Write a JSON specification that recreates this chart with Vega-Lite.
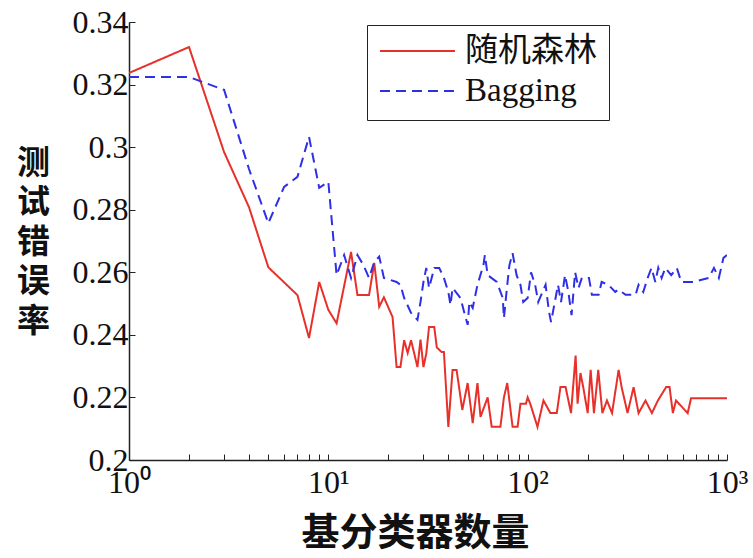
{
  "$schema": "https://vega.github.io/schema/vega-lite/v6.json",
  "autosize": {"type": "none"},
  "width": 598,
  "height": 438,
  "padding": {"left": 129, "top": 22, "right": 26, "bottom": 98},
  "background": "white",
  "config": {
    "view": {"stroke": null},
    "axis": {
      "domainColor": "#222",
      "domainWidth": 1.5,
      "tickColor": "#222",
      "tickWidth": 1,
      "labelColor": "#111",
      "labelFont": "Liberation Serif",
      "labelFontSize": 32,
      "grid": false
    }
  },
  "data": {
    "values": [
      {"s": "随机森林", "n": 1, "v": 0.3237}, {"s": "随机森林", "n": 2, "v": 0.332}, {"s": "随机森林", "n": 3, "v": 0.2984}, {"s": "随机森林", "n": 4, "v": 0.2808},
      {"s": "随机森林", "n": 5, "v": 0.2616}, {"s": "随机森林", "n": 7, "v": 0.2527}, {"s": "随机森林", "n": 8, "v": 0.239}, {"s": "随机森林", "n": 9, "v": 0.2569},
      {"s": "随机森林", "n": 10, "v": 0.248}, {"s": "随机森林", "n": 11, "v": 0.2437}, {"s": "随机森林", "n": 13, "v": 0.2665}, {"s": "随机森林", "n": 14, "v": 0.2527},
      {"s": "随机森林", "n": 16, "v": 0.2527}, {"s": "随机森林", "n": 17, "v": 0.263}, {"s": "随机森林", "n": 18, "v": 0.249}, {"s": "随机森林", "n": 19, "v": 0.252},
      {"s": "随机森林", "n": 21, "v": 0.2457}, {"s": "随机森林", "n": 22, "v": 0.2297}, {"s": "随机森林", "n": 23, "v": 0.2297}, {"s": "随机森林", "n": 24, "v": 0.2383},
      {"s": "随机森林", "n": 25, "v": 0.2342}, {"s": "随机森林", "n": 26, "v": 0.2383}, {"s": "随机森林", "n": 28, "v": 0.2297}, {"s": "随机森林", "n": 29, "v": 0.2385},
      {"s": "随机森林", "n": 30, "v": 0.2297}, {"s": "随机森林", "n": 31, "v": 0.234}, {"s": "随机森林", "n": 32, "v": 0.2425}, {"s": "随机森林", "n": 34, "v": 0.2425},
      {"s": "随机森林", "n": 35, "v": 0.236}, {"s": "随机森林", "n": 37, "v": 0.2345}, {"s": "随机森林", "n": 38, "v": 0.2345}, {"s": "随机森林", "n": 40, "v": 0.2106},
      {"s": "随机森林", "n": 42, "v": 0.2288}, {"s": "随机森林", "n": 44, "v": 0.2288}, {"s": "随机森林", "n": 47, "v": 0.216}, {"s": "随机森林", "n": 50, "v": 0.2246},
      {"s": "随机森林", "n": 53, "v": 0.2118}, {"s": "随机森林", "n": 56, "v": 0.2246}, {"s": "随机森林", "n": 58, "v": 0.2138}, {"s": "随机森林", "n": 63, "v": 0.22},
      {"s": "随机森林", "n": 66, "v": 0.2106}, {"s": "随机森林", "n": 73, "v": 0.2106}, {"s": "随机森林", "n": 76, "v": 0.22}, {"s": "随机森林", "n": 79, "v": 0.2246},
      {"s": "随机森林", "n": 84, "v": 0.2106}, {"s": "随机森林", "n": 89, "v": 0.2106}, {"s": "随机森林", "n": 92, "v": 0.218}, {"s": "随机森林", "n": 98, "v": 0.218},
      {"s": "随机森林", "n": 100, "v": 0.22}, {"s": "随机森林", "n": 103, "v": 0.218}, {"s": "随机森林", "n": 112, "v": 0.2106}, {"s": "随机森林", "n": 120, "v": 0.219},
      {"s": "随机森林", "n": 130, "v": 0.215}, {"s": "随机森林", "n": 140, "v": 0.215}, {"s": "随机森林", "n": 146, "v": 0.2233}, {"s": "随机森林", "n": 155, "v": 0.2233},
      {"s": "随机森林", "n": 165, "v": 0.215}, {"s": "随机森林", "n": 174, "v": 0.2334}, {"s": "随机森林", "n": 178, "v": 0.218}, {"s": "随机森林", "n": 184, "v": 0.2278},
      {"s": "随机森林", "n": 190, "v": 0.2233}, {"s": "随机森林", "n": 200, "v": 0.215}, {"s": "随机森林", "n": 207, "v": 0.2288}, {"s": "随机森林", "n": 215, "v": 0.215},
      {"s": "随机森林", "n": 226, "v": 0.2288}, {"s": "随机森林", "n": 237, "v": 0.215}, {"s": "随机森林", "n": 250, "v": 0.219}, {"s": "随机森林", "n": 265, "v": 0.215},
      {"s": "随机森林", "n": 286, "v": 0.2288}, {"s": "随机森林", "n": 296, "v": 0.2233}, {"s": "随机森林", "n": 317, "v": 0.215}, {"s": "随机森林", "n": 340, "v": 0.2233},
      {"s": "随机森林", "n": 360, "v": 0.215}, {"s": "随机森林", "n": 390, "v": 0.219}, {"s": "随机森林", "n": 420, "v": 0.215}, {"s": "随机森林", "n": 450, "v": 0.219},
      {"s": "随机森林", "n": 495, "v": 0.2233}, {"s": "随机森林", "n": 515, "v": 0.2233}, {"s": "随机森林", "n": 535, "v": 0.215}, {"s": "随机森林", "n": 555, "v": 0.219},
      {"s": "随机森林", "n": 635, "v": 0.215}, {"s": "随机森林", "n": 660, "v": 0.2197}, {"s": "随机森林", "n": 1000, "v": 0.2197},
      {"s": "Bagging", "n": 1, "v": 0.3224}, {"s": "Bagging", "n": 2, "v": 0.3224}, {"s": "Bagging", "n": 3, "v": 0.3183}, {"s": "Bagging", "n": 4, "v": 0.293},
      {"s": "Bagging", "n": 5, "v": 0.2757}, {"s": "Bagging", "n": 6, "v": 0.2873}, {"s": "Bagging", "n": 7, "v": 0.2905}, {"s": "Bagging", "n": 8, "v": 0.3033},
      {"s": "Bagging", "n": 9, "v": 0.287}, {"s": "Bagging", "n": 10, "v": 0.2889}, {"s": "Bagging", "n": 11, "v": 0.2591}, {"s": "Bagging", "n": 12, "v": 0.2655},
      {"s": "Bagging", "n": 13, "v": 0.2582}, {"s": "Bagging", "n": 14, "v": 0.2655}, {"s": "Bagging", "n": 15, "v": 0.2623}, {"s": "Bagging", "n": 16, "v": 0.2582},
      {"s": "Bagging", "n": 17, "v": 0.2633}, {"s": "Bagging", "n": 18, "v": 0.265}, {"s": "Bagging", "n": 19, "v": 0.2582}, {"s": "Bagging", "n": 22, "v": 0.2569},
      {"s": "Bagging", "n": 23, "v": 0.256}, {"s": "Bagging", "n": 24, "v": 0.2518}, {"s": "Bagging", "n": 26, "v": 0.247}, {"s": "Bagging", "n": 28, "v": 0.2448},
      {"s": "Bagging", "n": 29, "v": 0.2505}, {"s": "Bagging", "n": 30, "v": 0.2569}, {"s": "Bagging", "n": 31, "v": 0.2614}, {"s": "Bagging", "n": 32, "v": 0.255},
      {"s": "Bagging", "n": 34, "v": 0.2614}, {"s": "Bagging", "n": 36, "v": 0.2614}, {"s": "Bagging", "n": 38, "v": 0.2582}, {"s": "Bagging", "n": 40, "v": 0.2537},
      {"s": "Bagging", "n": 41, "v": 0.2495}, {"s": "Bagging", "n": 42, "v": 0.255}, {"s": "Bagging", "n": 46, "v": 0.2518}, {"s": "Bagging", "n": 48, "v": 0.2473},
      {"s": "Bagging", "n": 50, "v": 0.2432}, {"s": "Bagging", "n": 51, "v": 0.2505}, {"s": "Bagging", "n": 53, "v": 0.2486}, {"s": "Bagging", "n": 56, "v": 0.256},
      {"s": "Bagging", "n": 60, "v": 0.2623}, {"s": "Bagging", "n": 61, "v": 0.2655}, {"s": "Bagging", "n": 63, "v": 0.2591}, {"s": "Bagging", "n": 70, "v": 0.2569},
      {"s": "Bagging", "n": 75, "v": 0.2518}, {"s": "Bagging", "n": 76, "v": 0.2454}, {"s": "Bagging", "n": 79, "v": 0.256}, {"s": "Bagging", "n": 81, "v": 0.2623},
      {"s": "Bagging", "n": 84, "v": 0.2661}, {"s": "Bagging", "n": 88, "v": 0.2591}, {"s": "Bagging", "n": 92, "v": 0.256}, {"s": "Bagging", "n": 95, "v": 0.2505},
      {"s": "Bagging", "n": 100, "v": 0.2518}, {"s": "Bagging", "n": 104, "v": 0.26}, {"s": "Bagging", "n": 109, "v": 0.256}, {"s": "Bagging", "n": 113, "v": 0.2505},
      {"s": "Bagging", "n": 123, "v": 0.256}, {"s": "Bagging", "n": 128, "v": 0.2473}, {"s": "Bagging", "n": 131, "v": 0.2441}, {"s": "Bagging", "n": 142, "v": 0.256},
      {"s": "Bagging", "n": 147, "v": 0.2505}, {"s": "Bagging", "n": 154, "v": 0.2591}, {"s": "Bagging", "n": 160, "v": 0.2537}, {"s": "Bagging", "n": 166, "v": 0.2463},
      {"s": "Bagging", "n": 173, "v": 0.26}, {"s": "Bagging", "n": 180, "v": 0.255}, {"s": "Bagging", "n": 187, "v": 0.2582}, {"s": "Bagging", "n": 203, "v": 0.2582},
      {"s": "Bagging", "n": 210, "v": 0.2528}, {"s": "Bagging", "n": 227, "v": 0.2528}, {"s": "Bagging", "n": 235, "v": 0.2569}, {"s": "Bagging", "n": 254, "v": 0.256},
      {"s": "Bagging", "n": 275, "v": 0.2537}, {"s": "Bagging", "n": 285, "v": 0.2545}, {"s": "Bagging", "n": 310, "v": 0.2528}, {"s": "Bagging", "n": 348, "v": 0.2528},
      {"s": "Bagging", "n": 360, "v": 0.256}, {"s": "Bagging", "n": 380, "v": 0.2537}, {"s": "Bagging", "n": 400, "v": 0.2582}, {"s": "Bagging", "n": 418, "v": 0.2614},
      {"s": "Bagging", "n": 437, "v": 0.2569}, {"s": "Bagging", "n": 452, "v": 0.2614}, {"s": "Bagging", "n": 470, "v": 0.2582}, {"s": "Bagging", "n": 490, "v": 0.2614},
      {"s": "Bagging", "n": 525, "v": 0.2591}, {"s": "Bagging", "n": 560, "v": 0.2614}, {"s": "Bagging", "n": 590, "v": 0.2569}, {"s": "Bagging", "n": 680, "v": 0.2569},
      {"s": "Bagging", "n": 810, "v": 0.2582}, {"s": "Bagging", "n": 860, "v": 0.2614}, {"s": "Bagging", "n": 910, "v": 0.2582}, {"s": "Bagging", "n": 960, "v": 0.2646},
      {"s": "Bagging", "n": 1000, "v": 0.2655}
    ]
  },
  "mark": {"type": "line", "strokeWidth": 2, "clip": true},
  "encoding": {
    "x": {
      "field": "n", "type": "quantitative",
      "scale": {"type": "log", "domain": [1, 1000], "nice": false},
      "axis": {
        "values": [1,2,3,4,5,6,7,8,9,10,20,30,40,50,60,70,80,90,100,200,300,400,500,600,700,800,900,1000],
        "labelExpr": "datum.value == 1 ? '10⁰' : datum.value == 10 ? '10¹' : datum.value == 100 ? '10²' : datum.value == 1000 ? '10³' : ''",
        "labelOverlap": false,
        "labelFlush": false,
        "tickSize": -6,
        "labelPadding": 13,
        "labelBaseline": "top",
        "title": "基分类器数量",
        "titleFont": "Noto Sans CJK SC",
        "titleFontWeight": "bold",
        "titleFontSize": 38,
        "titleColor": "#111",
        "titleX": 286,
        "titleY": 73,
        "titleAlign": "center",
        "titleBaseline": "middle"
      }
    },
    "y": {
      "field": "v", "type": "quantitative",
      "scale": {"domain": [0.2, 0.34], "nice": false, "zero": false},
      "axis": {
        "values": [0.2, 0.22, 0.24, 0.26, 0.28, 0.3, 0.32, 0.34],
        "format": ".2~f",
        "tickSize": -6,
        "labelPadding": 7,
        "title": ["测", "试", "错", "误", "率"],
        "titleAngle": 0,
        "titleFont": "Noto Sans CJK SC",
        "titleFontWeight": "bold",
        "titleFontSize": 33,
        "titleLineHeight": 39.5,
        "titleColor": "#111",
        "titleX": -96,
        "titleY": 141,
        "titleAlign": "center",
        "titleBaseline": "middle"
      }
    },
    "color": {
      "field": "s", "type": "nominal",
      "scale": {"domain": ["随机森林", "Bagging"], "range": ["#e8302a", "#2f2fe6"]},
      "legend": {
        "title": null,
        "orient": "none",
        "legendX": 238,
        "legendY": 3,
        "strokeColor": "#222",
        "fillColor": "white",
        "padding": 12,
        "symbolType": "stroke",
        "symbolSize": 5625,
        "symbolStrokeWidth": 2,
        "clipHeight": 28,
        "rowPadding": 7,
        "labelFont": "Liberation Serif, Noto Sans CJK SC",
        "labelFontSize": 33,
        "labelColor": "#111",
        "labelOffset": 9
      }
    },
    "strokeDash": {
      "field": "s", "type": "nominal",
      "scale": {"domain": ["随机森林", "Bagging"], "range": [[1, 0], [10, 6]]},
      "legend": {
        "title": null,
        "orient": "none",
        "legendX": 238,
        "legendY": 3,
        "strokeColor": "#222",
        "fillColor": "white",
        "padding": 12,
        "symbolType": "stroke",
        "symbolSize": 5625,
        "symbolStrokeWidth": 2,
        "clipHeight": 28,
        "rowPadding": 7,
        "labelFont": "Liberation Serif, Noto Sans CJK SC",
        "labelFontSize": 33,
        "labelColor": "#111",
        "labelOffset": 9
      }
    }
  }
}
